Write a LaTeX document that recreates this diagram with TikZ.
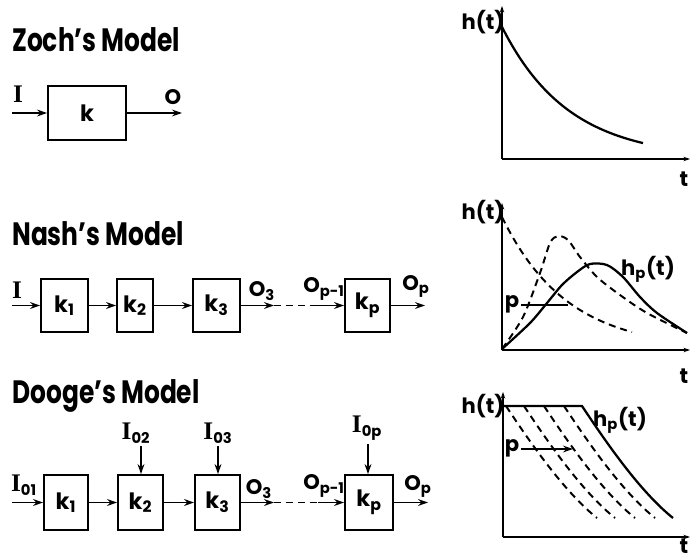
\documentclass[tikz,border=0pt]{standalone}
\usepackage{fontspec}
\usepackage{graphicx}
\setmainfont{Poppins}
\newfontfamily\romanfont{Liberation Serif}
\usetikzlibrary{arrows.meta,positioning,calc}
\newcommand{\inI}{{\romanfont\bfseries\fontsize{18}{18}\selectfont I}}
\newcommand{\modeltitle}[1]{\scalebox{0.77}[1]{#1}}

\begin{document}
\begin{tikzpicture}[x=0.025cm, y=-0.025cm,
    block/.style={rectangle, draw=black, line width=1.3pt, inner sep=0pt,
                  font=\fontsize{16}{16}\selectfont\bfseries},
    lab/.style={font=\fontsize{15}{15}\selectfont\bfseries, inner sep=0pt},
    title/.style={font=\fontsize{23}{23}\selectfont\bfseries, anchor=west, inner sep=0pt},
    arr/.style={-{Stealth[length=2.5mm, width=1.7mm]}, line width=1.3pt},
    axis/.style={-{Stealth[length=1.6mm, width=1.1mm]}, line width=1.2pt},
    curve/.style={line width=1.6pt},
    dcurve/.style={line width=1.4pt, dash pattern=on 5pt off 3.5pt},
]
\useasboundingbox (0,0) rectangle (690,559);

% --- Zoch's Model ---
\node[title] (ztitle) at (12,40) {\modeltitle{Zoch's Model}};
\node[block, minimum width=1.95cm, minimum height=1.35cm] (zk) at (87,113) {k};
\coordinate (zin) at (12,113);
\coordinate (zout) at (182,113);
\node[lab] (zi) at (18,94) {\inI};
\node[lab] (zo) at (173,97) {O};
\draw[arr] (zin) -- (zk);
\draw[arr] (zk) -- (zout);

% --- Nash's Model ---
\node[title] (ntitle) at (12,234) {\modeltitle{Nash's Model}};
\node[block, minimum width=1.175cm, minimum height=1.325cm] (nk1) at (64.5,305.5) {k\textsubscript{1}};
\node[block, minimum width=0.9cm, minimum height=1.325cm] (nk2) at (135,305.5) {k\textsubscript{2}};
\node[block, minimum width=1.175cm, minimum height=1.325cm] (nk3) at (216.5,305.5) {k\textsubscript{3}};
\node[block, minimum width=1.125cm, minimum height=1.325cm] (nkp) at (367.5,305.5) {k\textsubscript{p}};
\coordinate (nin) at (12,305.5);
\coordinate (na) at (274,305.5);
\coordinate (nb) at (316,305.5);
\coordinate (nout) at (425,305.5);
\node[lab] (ni) at (17,290) {\inI};
\node[lab] (no3) at (262,291) {O\textsubscript{3}};
\node[lab] (nop1) at (324,289) {O\textsubscript{p-1}};
\node[lab] (nop) at (416,286) {O\textsubscript{p}};
\draw[arr] (nin) -- (nk1);
\draw[arr] (nk1) -- (nk2);
\draw[arr] (nk2) -- (nk3);
\draw[arr] (nk3) -- (na);
\draw[dcurve, line width=1.2pt] (na) -- (nb);
\draw[arr] (nb) -- (nkp);
\draw[arr] (nkp) -- (nout);

% --- Dooge's Model ---
\node[title] (dtitle) at (12,396) {\modeltitle{Dooge's Model}};
\node[block, minimum width=1.1cm, minimum height=1.375cm] (dk1) at (66,502.5) {k\textsubscript{1}};
\node[block, minimum width=1.125cm, minimum height=1.375cm] (dk2) at (140.5,502.5) {k\textsubscript{2}};
\node[block, minimum width=1.125cm, minimum height=1.375cm] (dk3) at (217.5,502.5) {k\textsubscript{3}};
\node[block, minimum width=1.2cm, minimum height=1.375cm] (dkp) at (369,502.5) {k\textsubscript{p}};
\coordinate (din) at (12,502.5);
\coordinate (d2in) at (141,446);
\coordinate (d3in) at (218,446);
\coordinate (dpin) at (368,444);
\coordinate (da) at (274,502.5);
\coordinate (db) at (318,502.5);
\coordinate (dout) at (428,502.5);
\node[lab] (di1) at (24,485) {\inI\textsubscript{01}};
\node[lab] (di2) at (136,433) {\inI\textsubscript{02}};
\node[lab] (di3) at (218,433) {\inI\textsubscript{03}};
\node[lab] (dip) at (367,428) {\inI\textsubscript{0p}};
\node[lab] (do3) at (259,489) {O\textsubscript{3}};
\node[lab] (dop1) at (324,486) {O\textsubscript{p-1}};
\node[lab] (dop) at (418,486) {O\textsubscript{p}};
\draw[arr] (din) -- (dk1);
\draw[arr] (dk1) -- (dk2);
\draw[arr] (dk2) -- (dk3);
\draw[arr] (dk3) -- (da);
\draw[dcurve, line width=1.2pt] (da) -- (db);
\draw[arr] (db) -- (dkp);
\draw[arr] (dkp) -- (dout);
\draw[arr] (d2in) -- (d2in |- dk2.north);
\draw[arr] (d3in) -- (d3in |- dk3.north);
\draw[arr] (dpin) -- (dpin |- dkp.north);

% --- graph 1: h(t) of Zoch ---
\draw[axis] (502,159) -- (502,6);
\draw[axis] (502,159) -- (690,159);
\node[lab] (g1h) at (483,22) {h(t)};
\node[lab] (g1t) at (684,179) {t};
\draw[curve] plot[domain=502:643, samples=40] (\x,{159-132*exp(-0.015*(\x-502))});

% --- graph 2: h(t) of Nash ---
\draw[axis] (502,350) -- (502,203);
\draw[axis] (502,350) -- (690,350);
\node[lab] (g2h) at (483,212) {h(t)};
\node[lab] (g2t) at (684,376) {t};
\node[lab] (g2hp) at (648,269) {h\textsubscript{p}(t)};
\node[lab] (g2p) at (512,304) {p};
\draw[dcurve] plot[domain=502:632, samples=40] (\x,{350-133*exp(-0.0154*(\x-502))});
\draw[dcurve] plot[smooth] coordinates {(502,349) (523,317) (540,273) (550,243) (558,236)
    (568,240) (580,257) (597,277) (620,295) (647,313) (687,333)};
\draw[curve] plot[smooth] coordinates {(502,349) (530,323) (547,303) (562,285) (577,272)
    (590,264) (607,265) (623,277) (640,297) (657,313) (687,333)};
\draw[curve] (g2p.east) ++(2,1) -- (568,305);

% --- graph 3: h(t) of Dooge ---
\draw[axis] (503,537) -- (503,392);
\draw[axis] (503,537) -- (690,537);
\node[lab] (g3h) at (483,406) {h(t)};
\node[lab] (g3t) at (684,546) {t};
\node[lab] (g3hp) at (620,420) {h\textsubscript{p}(t)};
\node[lab] (g3p) at (512,448) {p};
\foreach \s in {18,38,58,76}
  \draw[dcurve] (582-\s,406) .. controls (602-\s,436) and (638-\s,490) .. (673-\s,518);
\draw[curve] (503,406) -- (582,406) .. controls (602,436) and (638,490) .. (673,518);
\draw[arr] (g3p.east) ++(2,1) -- (573,449);

\end{tikzpicture}
\end{document}
